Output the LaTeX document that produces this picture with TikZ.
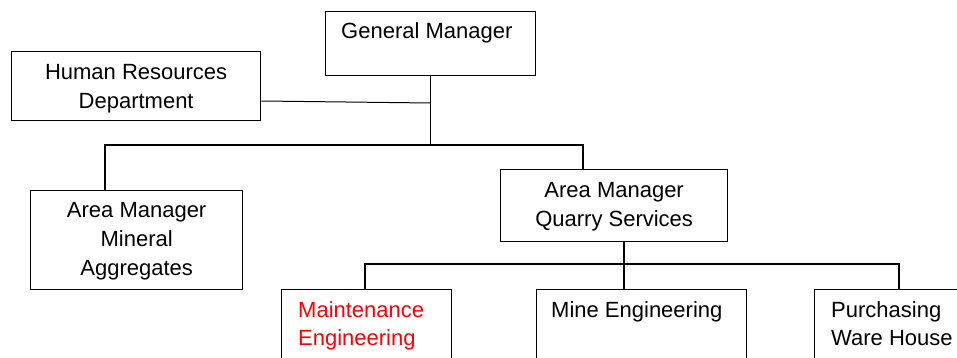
\documentclass[tikz,border=0pt]{standalone}
\usepackage{fontspec}
\setmainfont{Liberation Sans}
\begin{document}
\begin{tikzpicture}[x=1pt,y=-1pt,
  box/.style={draw=black,line width=1.3pt,rectangle,inner sep=0pt,anchor=north west},
  lbl/.style={font=\fontsize{22}{29}\selectfont,inner sep=0pt,align=center},
  tlbl/.style={font=\fontsize{22}{29}\selectfont,inner sep=0pt,anchor=base west},
  link/.style={draw=black,line width=1.4pt}]
\useasboundingbox (0,0) rectangle (957,358);
\clip (0,0) rectangle (957,358);

% boxes
\node[box,minimum width=210pt,minimum height=64pt] (gm) at (325,11) {};
\node[box,minimum width=249pt,minimum height=69pt] (hr) at (11,51) {};
\node[box,minimum width=212pt,minimum height=99pt] (amm) at (30,190) {};
\node[box,minimum width=227pt,minimum height=72pt] (amq) at (500,169) {};
\node[box,minimum width=170pt,minimum height=120pt] (mnt) at (281,289) {};
\node[box,minimum width=210pt,minimum height=120pt] (mine) at (536,289) {};
\node[box,minimum width=200pt,minimum height=120pt] (pur) at (814,289) {};

% labels
\node[tlbl] (gmt) at (341,39) {General Manager};
\node[lbl] (hrt) at ([yshift=-3pt]hr.center) {Human Resources\\Department};
\node[lbl] (ammt) at ([yshift=-1.5pt]amm.center) {Area Manager\\Mineral\\Aggregates};
\node[lbl] (amqt) at ([yshift=-1pt]amq.center) {Area Manager\\Quarry Services};
\node[tlbl,text=red] (mntt) at (298,317) {Maintenance};
\node[tlbl,text=red] (mntt2) at (298,345) {Engineering};
\node[tlbl] (minet) at (551,317) {Mine Engineering};
\node[tlbl] (purt) at (831,317) {Purchasing};
\node[tlbl] (purt2) at (831,345) {Ware House};

% junctions and connector ends
\coordinate (hrj) at (gm.south |- 0,103);
\coordinate (j1) at (gm.south |- 0,145);
\coordinate (minetop) at ([xshift=88pt]mine.north west);
\coordinate (j2) at (minetop |- 0,264);

% connectors
\draw[link] (gm.south) -- (j1);
\draw[link,line width=1pt] ([yshift=-50pt]hr.north east) -- (hrj);
\draw[link] ([xshift=75pt]amm.north west) |- (j1) -| ([xshift=83pt]amq.north west);
\draw[link] (minetop |- amq.south) -- (minetop);
\draw[link] ([xshift=84pt]mnt.north west) |- (j2) -| ([xshift=85pt]pur.north west);
\end{tikzpicture}
\end{document}
